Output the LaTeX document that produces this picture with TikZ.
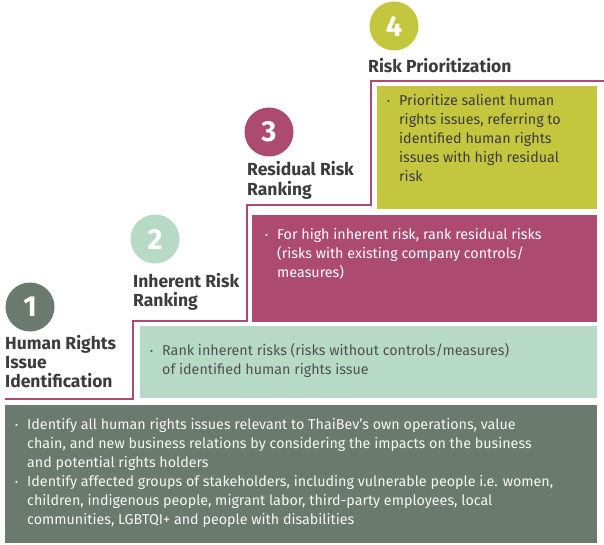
\documentclass[tikz,border=0pt]{standalone}
\usepackage{fontspec}
\setmainfont{Fira Sans}
\usetikzlibrary{positioning,calc}
\definecolor{hrSlate}{HTML}{6A7A6E}
\definecolor{hrMint}{HTML}{B7DAC6}
\definecolor{hrPlum}{HTML}{AD4A6F}
\definecolor{hrLime}{HTML}{C4C63E}
\definecolor{hrInk}{HTML}{3C3C3C}
\newcommand{\hrdot}{\makebox[12pt][l]{\raisebox{1pt}{\fontsize{9}{9}\selectfont •}}}
\newcommand{\hrlines}[1]{\begin{tabular}[t]{@{}l@{}}#1\end{tabular}}
\newcommand{\hrlist}[1]{\begin{tabular}[t]{@{}l@{}l@{}}#1\end{tabular}}

\begin{document}
\begin{tikzpicture}[x=1pt, y=-1pt,
  panel/.style={anchor=north west, inner sep=0pt, draw=none},
  badge/.style={circle, minimum size=49pt, inner sep=0pt, text=white,
               font=\fontsize{29}{29}\selectfont\bfseries},
  stagetitle/.style={anchor=base west, inner sep=0pt, text=hrInk,
               font=\fontsize{17.5}{19}\selectfont\bfseries},
  bullets/.style={anchor=base west, inner sep=0pt, font=\fontsize{14.3}{19}\selectfont},
  stair/.style={draw=hrPlum, line width=2pt}
]
  \useasboundingbox (0,0) rectangle (604,545);

  % stacked panels
  \node[panel, fill=hrSlate, minimum width=592pt, minimum height=138pt] (p1) at (5,405) {};
  \node[panel, fill=hrMint, minimum width=457pt, minimum height=72pt] (p2) at (140,326) {};
  \node[panel, fill=hrPlum, minimum width=345pt, minimum height=107pt] (p3) at (252,215) {};
  \node[panel, fill=hrLime, minimum width=220pt, minimum height=123pt] (p4) at (377,86) {};

  % staircase outline
  \draw[stair] (5,399) -- (133,399) -- (133,321) -- (247,321) -- (247,205)
    -- (371,205) -- (371,81) -- (604,81);

  % step numbers
  \node[badge, fill=hrSlate] (n1) at (30,307) {1};
  \node[badge, fill=hrMint] (n2) at (155,239) {2};
  \node[badge, fill=hrPlum] (n3) at (269,132) {3};
  \node[badge, fill=hrLime] (n4) at (394,26) {4};

  % step titles
  \node[stagetitle] (t1) at (5,349) {\hrlines{Human Rights\\Issue\\Identification}};
  \node[stagetitle] (t2) at (133,287) {\hrlines{Inherent Risk\\Ranking}};
  \node[stagetitle] (t3) at (247,176) {\hrlines{Residual Risk\\Ranking}};
  \node[stagetitle] (t4) at (368,73) {Risk Prioritization};

  % panel texts
  \node[bullets, text=white!94!hrSlate] (b1) at ($(p1.north west)+(10,24)$) {\hrlist{%
    \hrdot & Identify all human rights issues relevant to ThaiBev’s own operations, value\\
    & chain, and new business relations by considering the impacts on the business\\
    & and potential rights holders\\
    \hrdot & Identify affected groups of stakeholders, including vulnerable people i.e. women,\\
    & children, indigenous people, migrant labor, third-party employees, local\\
    & communities, LGBTQI+ and people with disabilities}};
  \node[bullets, text=hrInk!90] (b2) at ($(p2.north west)+(10,29)$) {\hrlist{%
    \hrdot & Rank inherent risks (risks without controls/measures)\\
    & of identified human rights issue}};
  \node[bullets, text=white] (b3) at ($(p3.north west)+(13,24)$) {\hrlist{%
    \hrdot & For high inherent risk, rank residual risks\\
    & (risks with existing company controls/\\
    & measures)}};
  \node[bullets, text=hrInk] (b4) at ($(p4.north west)+(10,20)$) {\hrlist{%
    \hrdot & Prioritize salient human\\
    & rights issues, referring to\\
    & identified human rights\\
    & issues with high residual\\
    & risk}};
\end{tikzpicture}
\end{document}
